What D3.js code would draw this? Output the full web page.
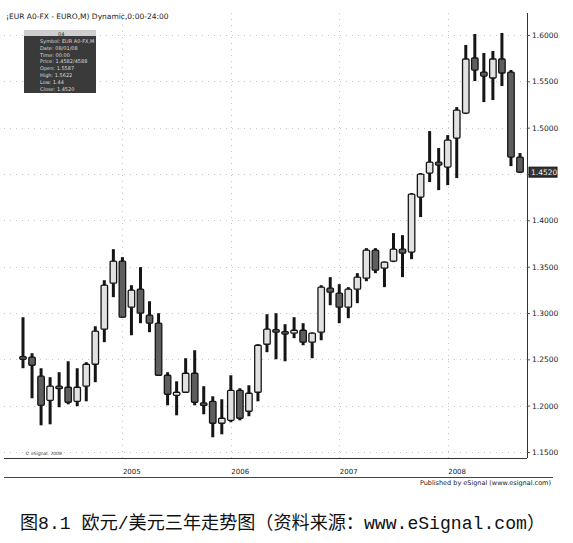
<!DOCTYPE html>
<html>
<head>
<meta charset="utf-8">
<script src="https://cdn.jsdelivr.net/npm/d3@7"></script>
<style>
  html, body { margin: 0; padding: 0; background: #fff; }
  svg { display: block; }
</style>
</head>
<body>
<svg id="chart" width="573" height="543"></svg>
<script>
const months = ["2004-02","2004-03","2004-04","2004-05","2004-06","2004-07","2004-08","2004-09","2004-10","2004-11","2004-12",
  "2005-01","2005-02","2005-03","2005-04","2005-05","2005-06","2005-07","2005-08","2005-09","2005-10","2005-11","2005-12",
  "2006-01","2006-02","2006-03","2006-04","2006-05","2006-06","2006-07","2006-08","2006-09","2006-10","2006-11","2006-12",
  "2007-01","2007-02","2007-03","2007-04","2007-05","2007-06","2007-07","2007-08","2007-09","2007-10","2007-11","2007-12",
  "2008-01","2008-02","2008-03","2008-04","2008-05","2008-06","2008-07","2008-08","2008-09"];
const openV  = [1.2530,1.2523,1.2318,1.2058,1.2210,1.2199,1.2047,1.2210,1.2447,1.2825,1.3322,1.3559,1.3063,1.3257,1.2976,1.2890,1.2328,1.2112,1.2145,1.2350,1.2030,1.2047,1.1810,1.1842,1.2166,1.1940,1.2145,1.2663,1.2820,1.2800,1.2782,1.2814,1.2685,1.2793,1.3268,1.3214,1.3063,1.3257,1.3376,1.3678,1.3484,1.3559,1.3689,1.3657,1.4251,1.4510,1.4628,1.4575,1.4888,1.5158,1.5752,1.5600,1.5536,1.5741,1.5600,1.4683];
const highV  = [1.2954,1.2566,1.2404,1.2307,1.2361,1.2479,1.2404,1.2469,1.2857,1.3354,1.3689,1.3603,1.3300,1.3495,1.3127,1.2998,1.2361,1.2263,1.2512,1.2598,1.2210,1.2101,1.2069,1.2328,1.2188,1.2220,1.2663,1.2987,1.2998,1.2879,1.2955,1.2890,1.2790,1.3300,1.3387,1.3311,1.3279,1.3430,1.3700,1.3700,1.3555,1.3862,1.3840,1.4294,1.4510,1.4963,1.4780,1.4920,1.5222,1.5892,1.6011,1.5806,1.5827,1.6022,1.5622,1.4726];
const lowV   = [1.2404,1.2080,1.1788,1.1799,1.1983,1.2015,1.1994,1.2047,1.2253,1.2685,1.3171,1.2950,1.2760,1.2890,1.2793,1.2320,1.2004,1.1896,1.2140,1.2004,1.1907,1.1659,1.1691,1.1821,1.1842,1.1886,1.2047,1.2577,1.2501,1.2479,1.2728,1.2652,1.2512,1.2706,1.3084,1.2890,1.2944,1.3106,1.3343,1.3430,1.3279,1.3549,1.3387,1.3581,1.4035,1.4413,1.4326,1.4380,1.4456,1.5147,1.5503,1.5276,1.5298,1.5449,1.4585,1.4510];
const closeV = [1.2500,1.2436,1.2004,1.2210,1.2200,1.2037,1.2199,1.2447,1.2804,1.3300,1.3559,1.2955,1.3246,1.2998,1.2890,1.2328,1.2123,1.2145,1.2350,1.2037,1.2020,1.1810,1.1864,1.2166,1.1864,1.2134,1.2652,1.2825,1.2810,1.2792,1.2814,1.2685,1.2782,1.3279,1.3225,1.3063,1.3257,1.3387,1.3678,1.3462,1.3549,1.3689,1.3646,1.4283,1.4499,1.4628,1.4596,1.4866,1.5190,1.5741,1.5622,1.5557,1.5741,1.5590,1.4683,1.4520];
const priceTicks = [1.15,1.20,1.25,1.30,1.35,1.40,1.45,1.50,1.55,1.60];
const priceTickLabels = ["1.1500","1.2000","1.2500","1.3000","1.3500","1.4000","","1.5000","1.5500","1.6000"];
const yearTicks = ["2005-01","2006-01","2007-01","2008-01"];
const yearLabels = ["2005","2006","2007","2008"];
const lastPrice = 1.4520;
const lastPriceLabel = "1.4520";
const headerText = "¡EUR A0-FX - EURO,M) Dynamic,0:00-24:00";
const infoTitle = "04";
const infoLines = ["Symbol: EUR A0-FX,M","Date: 08/01/08","Time: 00:00","Price: 1.4582/4588","Open: 1.5587","High: 1.5622","Low: 1.44","Close: 1.4520"];
const copyright = "© eSignal, 2008";
const publishedText = "Published by eSignal (www.esignal.com)";
const caption = "图8.1 欧元/美元三年走势图（资料来源：www.eSignal.com）";

const data = months.map((m,i)=>({m, o:openV[i], h:highV[i], l:lowV[i], c:closeV[i]}));

const svg = d3.select("#chart");
const x = d3.scalePoint().domain(months).range([23, 520]);
const y = d3.scaleLinear().domain([1.15, 1.60]).range([452, 35]);
const plotLeft = 4, plotRight = 527, plotTop = 13, plotBottom = 458;

// grid lines
const grid = svg.append("g").attr("stroke", "#c4c4c4").attr("stroke-width", 1).attr("stroke-dasharray", "1,5");
grid.selectAll("line.h").data(priceTicks).join("line")
  .attr("x1", plotLeft).attr("x2", plotRight)
  .attr("y1", d => Math.round(y(d)) + 0.5).attr("y2", d => Math.round(y(d)) + 0.5);
grid.selectAll("line.v").data(yearTicks).join("line")
  .attr("x1", d => Math.round(x(d)) + 0.5).attr("x2", d => Math.round(x(d)) + 0.5)
  .attr("y1", plotTop).attr("y2", plotBottom);

// frame lines
svg.append("line").attr("x1", plotRight + 0.5).attr("x2", plotRight + 0.5).attr("y1", plotTop).attr("y2", plotBottom)
  .attr("stroke", "#333").attr("stroke-width", 1);
svg.append("line").attr("x1", plotLeft).attr("x2", plotRight).attr("y1", plotBottom + 0.5).attr("y2", plotBottom + 0.5)
  .attr("stroke", "#333").attr("stroke-width", 1.2);
svg.append("line").attr("x1", plotLeft).attr("x2", 553).attr("y1", 477.5).attr("y2", 477.5)
  .attr("stroke", "#444").attr("stroke-width", 1);

// candles
const bw = 6.5;
const cg = svg.append("g");
cg.selectAll("line.wick").data(data).join("line")
  .attr("x1", d => x(d.m)).attr("x2", d => x(d.m))
  .attr("y1", d => y(d.h)).attr("y2", d => y(d.l))
  .attr("stroke", "#151515").attr("stroke-width", 3);
cg.selectAll("rect.body").data(data).join("rect")
  .attr("x", d => x(d.m) - bw/2)
  .attr("y", d => y(Math.max(d.o, d.c)))
  .attr("width", bw)
  .attr("height", d => Math.max(2.5, Math.abs(y(d.o) - y(d.c))))
  .attr("rx", 1)
  .attr("fill", d => d.c >= d.o ? "#e2e2e2" : "#5e5e5e")
  .attr("stroke", "#151515").attr("stroke-width", 1.3);

// right price axis
const yAxis = d3.axisRight(y).tickValues(priceTicks)
  .tickFormat((d,i) => priceTickLabels[i]).tickSize(3).tickPadding(2);
const ya = svg.append("g").attr("transform", `translate(${plotRight},0)`).call(yAxis);
ya.select(".domain").remove();
ya.selectAll("line").attr("stroke", "#555");
ya.selectAll("text").attr("font-family", "'DejaVu Sans', sans-serif").attr("font-size", 7.5).attr("fill", "#222");

// last price marker
svg.append("rect").attr("x", plotRight + 2).attr("y", y(lastPrice) - 5).attr("width", 28).attr("height", 10)
  .attr("fill", "#333").attr("stroke", "#111");
svg.append("text").attr("x", plotRight + 4).attr("y", y(lastPrice) + 3)
  .attr("font-family", "'DejaVu Sans', sans-serif").attr("font-size", 7.5).attr("fill", "#eee")
  .text(lastPriceLabel);

// year axis
const xAxis = d3.axisBottom(x).tickValues(yearTicks).tickFormat((d,i) => yearLabels[i]).tickSize(0).tickPadding(0);
const xa = svg.append("g").attr("transform", `translate(0,${plotBottom + 11})`).call(xAxis);
xa.select(".domain").remove();
xa.selectAll("text").attr("text-anchor", "start").attr("dy", "0.7em")
  .attr("font-family", "'DejaVu Sans', sans-serif").attr("font-size", 7).attr("fill", "#222");

// header
svg.append("text").attr("x", 6).attr("y", 19)
  .attr("font-family", "'DejaVu Sans', sans-serif").attr("font-size", 7.5).attr("fill", "#222")
  .text(headerText);

// info box
const ib = svg.append("g");
ib.append("rect").attr("x", 24).attr("y", 30).attr("width", 72).attr("height", 63).attr("fill", "#3a3a3a");
ib.append("rect").attr("x", 24).attr("y", 30).attr("width", 72).attr("height", 6).attr("fill", "#cfcfcf");
ib.append("text").attr("x", 58).attr("y", 35.5).attr("font-family", "'DejaVu Sans', sans-serif")
  .attr("font-size", 5).attr("fill", "#222").text(infoTitle);
ib.selectAll("text.l").data(infoLines).join("text")
  .attr("x", 40).attr("y", (d,i) => 43 + i * 6.8)
  .attr("font-family", "'DejaVu Sans', sans-serif").attr("font-size", 5).attr("fill", "#dcdcdc")
  .text(d => d);

// copyright
svg.append("text").attr("x", 25).attr("y", 455)
  .attr("font-family", "'DejaVu Sans', sans-serif").attr("font-size", 4.5).attr("fill", "#333").text(copyright);

// published
svg.append("text").attr("x", 551).attr("y", 485).attr("text-anchor", "end")
  .attr("font-family", "'DejaVu Sans', sans-serif").attr("font-size", 6.5).attr("fill", "#222").text(publishedText);

// caption
svg.append("text").attr("x", 20).attr("y", 529)
  .attr("font-family", "'Liberation Mono', 'Noto Sans CJK SC', monospace").attr("font-size", 18).attr("fill", "#111")
  .attr("textLength", 525).attr("lengthAdjust", "spacingAndGlyphs")
  .text(caption);
</script>
</body>
</html>
